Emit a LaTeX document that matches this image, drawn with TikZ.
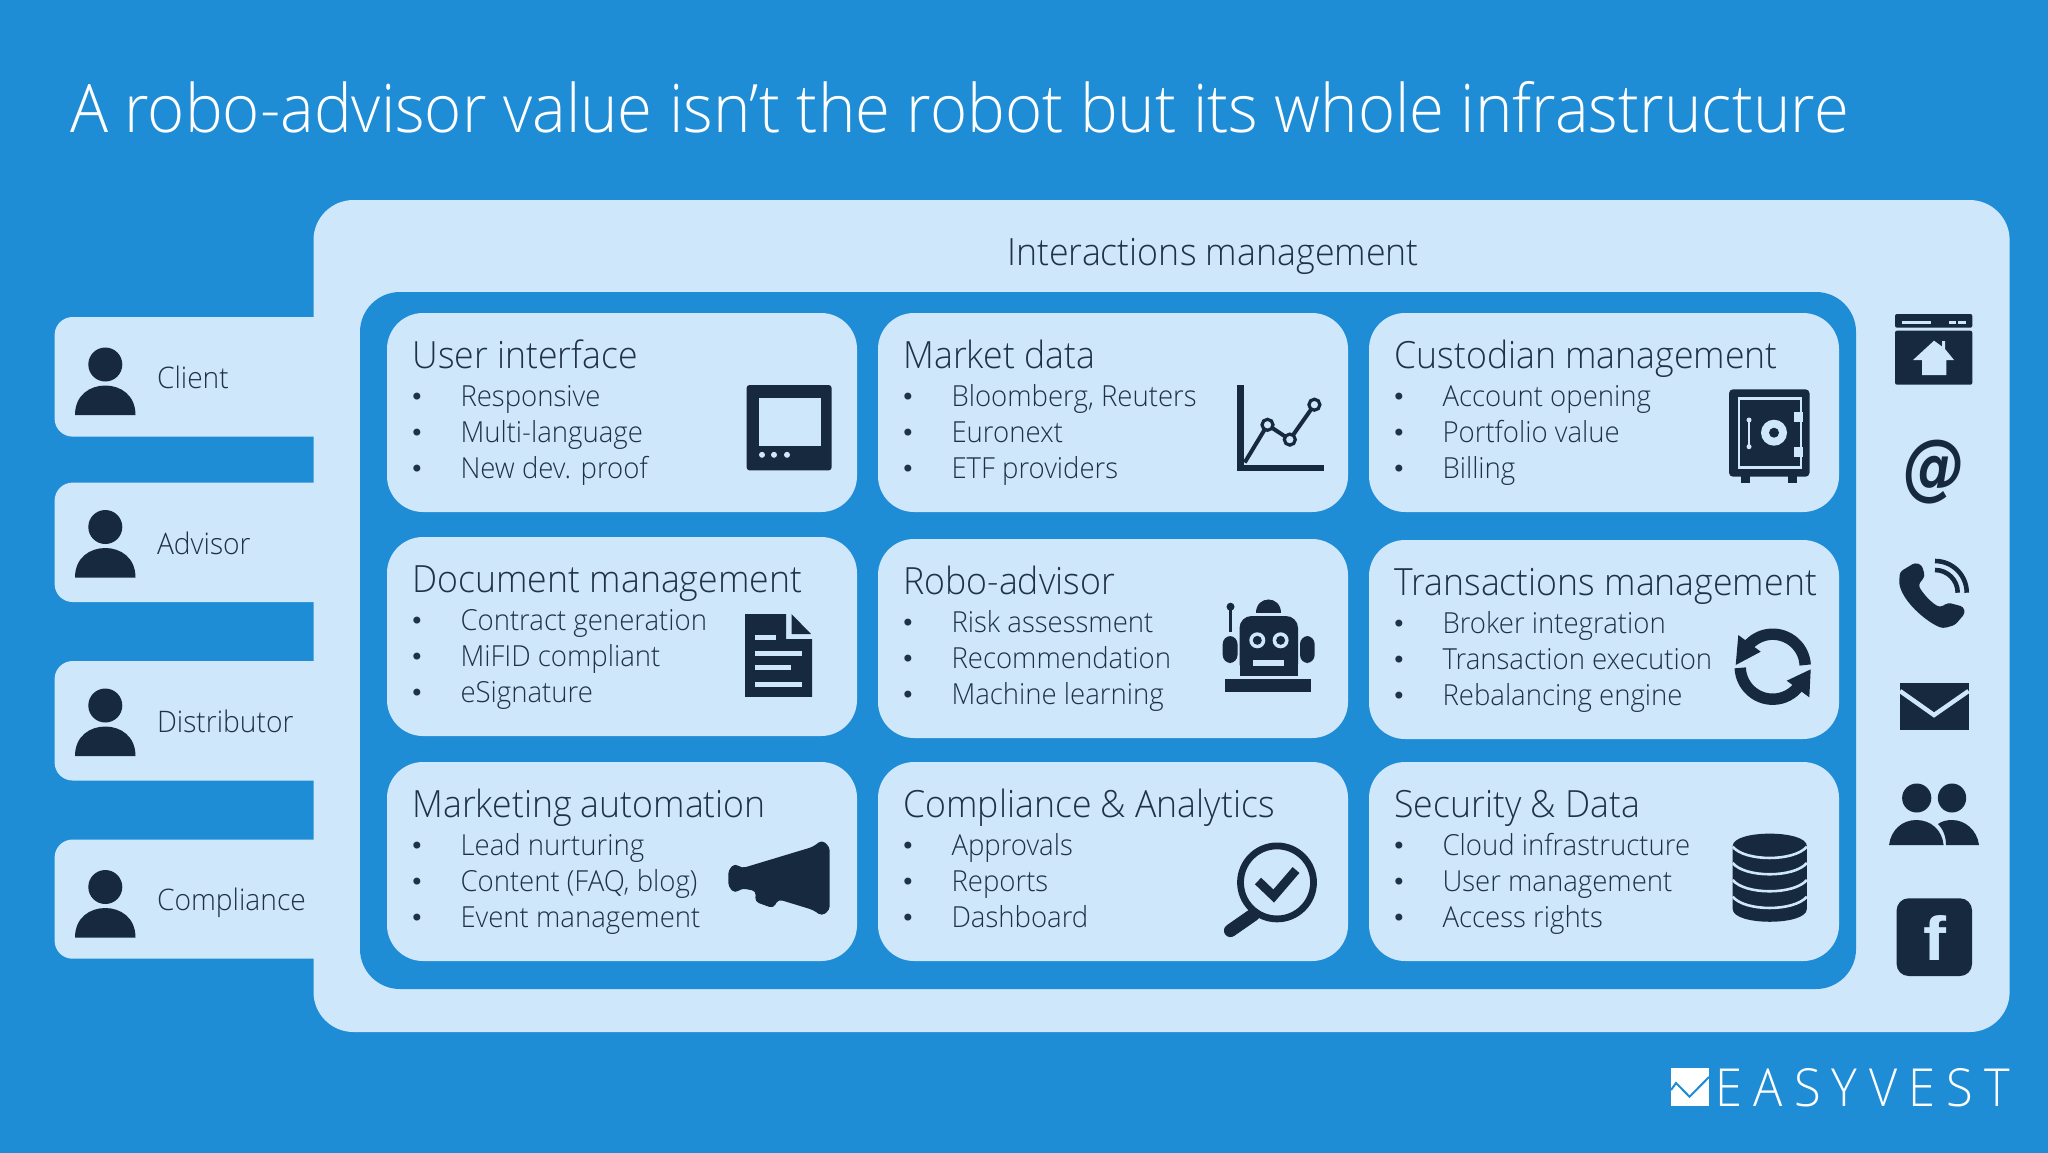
\documentclass[tikz,border=0pt]{standalone}
\usepackage{fontspec}
\usepackage{graphicx}
\setmainfont{Open Sans}[UprightFont=* Light,FakeStretch=0.95]
\newfontfamily\boldob{DejaVu Sans Bold Oblique}
\newfontfamily\fbf{Liberation Sans Bold}
\newfontfamily\bulf{DejaVu Sans}
\usetikzlibrary{calc}
\definecolor{bgblue}{HTML}{1F8CD6}
\definecolor{panel}{HTML}{CFE7FA}
\definecolor{navy}{HTML}{17293F}
\definecolor{inktext}{HTML}{1E3248}
\tikzset{
  txt/.style={text=inktext,inner sep=0pt,outer sep=0pt,anchor=base west},
  tcard/.style={txt,font=\fontsize{18.75}{19}\selectfont},
  titem/.style={txt,font=\fontsize{14.5}{15}\selectfont},
  tbul/.style={txt,anchor=base,font=\bulf\fontsize{12}{12}\selectfont},
  tactor/.style={txt,font=\fontsize{14.84}{15}\selectfont},
  ink/.style={fill=navy},
  lite/.style={fill=panel},
}
\newcommand{\card}[7]{% name x y title i1 i2 i3
  \fill[panel,rounded corners=18pt] (#2,#3) rectangle ++(470,199);
  \node[tcard] (#1t) at ($(#2,#3)+(25.5,55.5)$) {#4};
  \node[tbul] (#1ba) at ($(#2,#3)+(30,92.7)$) {•};
  \node[tbul] (#1bb) at ($(#2,#3)+(30,128.7)$) {•};
  \node[tbul] (#1bc) at ($(#2,#3)+(30,164.7)$) {•};
  \node[titem] (#1a) at ($(#2,#3)+(73.5,93.7)$) {#5};
  \node[titem] (#1b) at ($(#2,#3)+(73.5,129.7)$) {#6};
  \node[titem] (#1c) at ($(#2,#3)+(73.5,165.7)$) {#7};
}
\newcommand{\personbody}[1]{%
  \fill[ink] (75,#1) .. controls (75,#1-20) and (90,#1-29.5) .. (105.3,#1-29.5) .. controls (120.5,#1-29.5) and (135.5,#1-20) .. (135.5,#1) -- cycle;
  \fill[ink] (105.3,#1-50.5) circle[x radius=17,y radius=17];
}
\begin{document}
\begin{tikzpicture}[x=0.5pt,y=-0.5pt]
\useasboundingbox (0,0) rectangle (2048,1152);
\fill[bgblue] (-10,-10) rectangle (2058,1162);
\node[txt,text=white,font=\fontsize{33.4}{34}\selectfont] (title) at (70,132) {A robo-advisor value isn’t the robot but its whole infrastructure};
% actors tabs
\foreach \n/\a/\b in {1/317/436.6,2/482.6/602,3/661/780.5,4/839.5/958.7}{
  \fill[panel,rounded corners=9pt] (54.6,\a) -- (340,\a) -- (340,\b) -- (54.6,\b) -- cycle;
}
% outer and inner panels
\fill[panel,rounded corners=20pt] (313.5,200) rectangle (2009.6,1032);
\fill[bgblue,rounded corners=20pt] (360,292) rectangle (1856,989);
\node[txt,anchor=base,font=\fontsize{18.8}{19}\selectfont] (inter) at (1213,265) {Interactions management};
\node[tactor] (client) at (157,388) {Client};
\node[tactor] (advisor) at (157,554.5) {Advisor};
\node[tactor] (distrib) at (157,732) {Distributor};
\node[tactor] (compl) at (157,910.6) {Compliance};
\personbody{415}\personbody{577.5}\personbody{756}\personbody{937.5}
% cards
\card{ui}{387}{313}{User interface}{Responsive}{Multi-language}{New dev. proof}
\card{md}{878}{313}{Market data}{Bloomberg, Reuters}{Euronext}{ETF providers}
\card{cm}{1369}{313}{Custodian management}{Account opening}{Portfolio value}{Billing}
\card{dm}{387}{537}{Document management}{Contract generation}{MiFID compliant}{eSignature}
\card{ra}{878}{539}{Robo-advisor}{Risk assessment}{Recommendation}{Machine learning}
\card{tm}{1369}{540}{Transactions management}{Broker integration}{Transaction execution}{Rebalancing engine}
\card{ma}{387}{762}{Marketing automation}{Lead nurturing}{Content (FAQ, blog)}{Event management}
\card{ca}{878}{762}{Compliance \& Analytics}{Approvals}{Reports}{Dashboard}
\card{sd}{1369}{762}{Security \& Data}{Cloud infrastructure}{User management}{Access rights}
% tablet
\fill[ink,rounded corners=1.5pt] (746.6,385) rectangle (831.6,470.4);
\fill[lite] (759,398) rectangle (820.6,446);
\foreach \x in {762,774,787}{\fill[lite] (\x,454.8) circle[radius=3];}
% chart
\fill[ink] (1236.7,384.6) rectangle (1244,471.4);
\fill[ink] (1236.7,465) rectangle (1323.8,471.4);
\draw[navy,line width=2pt] (1244.7,462.5) -- (1267.5,424.8) -- (1289.8,439.6) -- (1314.4,404.7);
\foreach \x/\y in {1267.5/424.8,1289.8/439.6,1314.4/404.7}{\draw[navy,line width=1.6pt,fill=panel] (\x,\y) circle[radius=5.5];}
% safe
\fill[ink,rounded corners=2pt] (1729,389.3) rectangle (1809.5,476.7);
\fill[ink] (1741,470) rectangle (1750,483);
\fill[ink] (1788,470) rectangle (1796.5,483);
\draw[panel,line width=1.3pt] (1739,398.5) rectangle (1801,467.5);
\fill[lite] (1774,432.7) circle[radius=13];
\fill[ink] (1774,432.7) circle[radius=5];
\fill[lite] (1794,411.7) rectangle (1803,422.3);
\fill[lite] (1794,446.7) rectangle (1803,456.7);
\draw[panel,line width=1.3pt] (1749,420) -- (1749,446.7);
\fill[lite] (1749,420) circle[radius=2.5];
\fill[lite] (1749,446.7) circle[radius=2.5];
% document
\fill[ink] (745,614) -- (786,614) -- (786,639) -- (812,639) -- (812,696.8) -- (745,696.8) -- cycle;
\fill[ink] (791.5,614) -- (811,634) -- (791.5,634) -- cycle;
\fill[lite] (755,634.5) rectangle (776.4,639.7);
\fill[lite] (755,651.4) rectangle (802,656.4);
\fill[lite] (755,665.4) rectangle (790.7,670.4);
\fill[lite] (755,681.5) rectangle (802,686.5);
% robot
\fill[ink] (1225.4,679) rectangle (1311,692.3);
\fill[ink,rounded corners=6pt] (1239.5,675.7) -- (1239.5,616) -- (1298,616) -- (1298,675.7) -- cycle;
\fill[ink] (1239.5,660.7) rectangle (1298,675.7);
\fill[ink,rounded corners=4pt] (1222.7,636) rectangle (1237.5,663);
\fill[ink,rounded corners=4pt] (1300,636) rectangle (1314.6,663);
\fill[ink] (1256,612.7) .. controls (1256,595) and (1281,595) .. (1281,612.7) -- cycle;
\fill[ink] (1228.6,606) rectangle (1232.4,631.7);
\fill[ink] (1230.5,606.7) circle[radius=4];
\foreach \x in {1257.3,1280.6}{\fill[lite] (\x,640.3) circle[radius=8];\fill[ink] (\x,640.3) circle[radius=4.5];}
\fill[lite] (1252.5,660) rectangle (1284,666);
% refresh
\draw[navy,line width=5.7pt] (1772.7,666.7) ++(-3:32.5) arc[start angle=-3,end angle=-143,radius=32.5];
\fill[ink] (1738.3,635) -- (1760.7,651.7) -- (1735.7,665) -- cycle;
\draw[navy,line width=5.7pt] (1772.7,666.7) ++(178:32.5) arc[start angle=178,end angle=36,radius=32.5];
\fill[ink] (1810.7,669.3) -- (1786.7,680.7) -- (1809.3,697.3) -- cycle;
% megaphone
\fill[ink,rounded corners=2pt] (821.7,840) -- (829.7,846.7) -- (829.7,910) -- (821.7,916) -- (813.3,910) -- (778.3,899.3) -- (773.3,908.3) -- (755,901.7) -- (756,891) -- (741.7,888.3) -- (735,893.3) -- (728.3,886.7) -- (728.3,870) -- (735,863.3) -- (741.7,868.3) -- (813.3,846.7) -- cycle;
% magnifier
\draw[navy,line width=3.4pt] (1277,882.4) circle[radius=36.5];
\draw[navy,line width=6.5pt,line cap=round] (1253.6,914.5) -- (1230.4,930.6);
\draw[navy,line width=4.5pt] (1258,881) -- (1273.7,896) -- (1296,870);
% database
\fill[ink] (1732.7,846) .. controls (1732.7,829.5) and (1806.8,829.5) .. (1806.8,846) -- (1806.8,909) .. controls (1806.8,926) and (1732.7,926) .. (1732.7,909) -- cycle;
\foreach \y in {846.7,863,880,896.7}{
  \draw[panel,line width=1.3pt] (1732.7,\y) .. controls (1745,\y+15) and (1794,\y+15) .. (1806.8,\y);
}
% browser
\fill[ink,rounded corners=1pt] (1895,314) rectangle (1972.3,327.7);
\fill[ink,rounded corners=1pt] (1895,330.7) rectangle (1972.3,384.7);
\fill[lite] (1901.5,320.7) rectangle (1931,323.7);
\fill[lite] (1948.5,320.7) rectangle (1956,323.7);
\fill[lite] (1958,320.7) rectangle (1966,323.7);
\fill[lite] (1934,340.7) -- (1942,346.5) -- (1942,341) -- (1945,341) -- (1945,349) -- (1954,360) -- (1946.4,360) -- (1946.4,375) -- (1922,375) -- (1922,360) -- (1913,360) -- cycle;
% at sign
\node[inner sep=0pt,text=navy] (at) at (1934.2,472) {\resizebox*{31pt}{32pt}{\boldob @}};
% phone
\fill[ink,rounded corners=1.5pt] (1915,562.7) -- (1921.7,565) -- (1925,576) -- (1918.3,585) .. controls (1922,592) and (1930,602) .. (1940,607.3) -- (1948.3,602.7) -- (1963.3,606.7) -- (1965,613.3) -- (1955,625) -- (1943.3,628.3) .. controls (1930,624) and (1905,605) .. (1899,583.3) -- (1900,571.7) -- cycle;
\draw[navy,line width=2.3pt] (1935,570) arc[start angle=-90,end angle=0,radius=22.7];
\draw[navy,line width=2.3pt] (1935,561) arc[start angle=-90,end angle=0,radius=31.7];
% envelope
\fill[ink] (1900,682.7) rectangle (1968.5,730);
\draw[panel,line width=2.2pt] (1900,691) -- (1934,715) -- (1968.5,691);
% people
\fill[ink] (1916.7,798) circle[x radius=14.6,y radius=14.5];
\fill[ink] (1952,798) circle[x radius=14.2,y radius=14.5];
\fill[ink] (1889,845) .. controls (1891,830) and (1902,820) .. (1916.3,820) .. controls (1931,820) and (1942,830) .. (1943.6,845) -- cycle;
\fill[ink] (1946,845) .. controls (1946,835) and (1942,828) .. (1938,824) .. controls (1942,821) and (1947,820) .. (1952,820) .. controls (1965,820) and (1977,830) .. (1979,845) -- cycle;
% facebook
\fill[ink,rounded corners=6pt] (1896.6,898.3) rectangle (1972,976);
\node[inner sep=0pt,text=panel] (fb) at (1934.5,937.5) {\resizebox{11.5pt}{22.5pt}{\fbf f}};
% logo
\fill[white] (1671,1067.7) rectangle (1709,1106);
\draw[bgblue,line width=1pt] (1671,1090) -- (1676,1083) -- (1689.5,1096.7) -- (1709,1077);
\node[inner sep=0pt,anchor=base west,text=white] (logo) at (1715,1106) {\resizebox{147.3pt}{19pt}{\fontsize{26}{26}\selectfont\addfontfeature{LetterSpace=22} EASYVEST}};
\end{tikzpicture}
\end{document}
